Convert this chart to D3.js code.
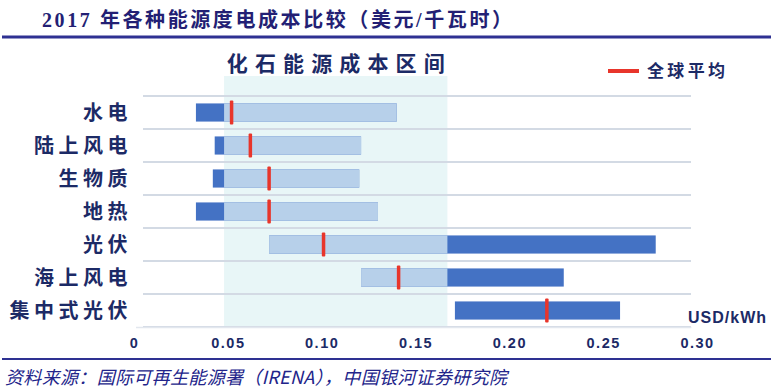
<!DOCTYPE html>
<html lang="zh">
<head>
  <meta charset="UTF-8">
  <title>2017 年各种能源度电成本比较</title>
  <style>
      body { margin: 0; background: #fff; }
      svg { display: block; }
      .cjk { font-family: "Noto Sans CJK SC", "Noto Sans", sans-serif; }
      .grid line { stroke: #d3dae4; stroke-width: 1.2px; shape-rendering: crispEdges; }
      .tick text { font-family: "Liberation Sans", Arial, sans-serif; font-weight: bold; font-size: 14.5px; fill: #1c2a66; letter-spacing: 1.5px; }
  </style>
</head>
<body>
<div id="chart"></div>
<script src="https://d3js.org/d3.v7.min.js"></script>
<script>
  // values (USD/kWh)
  const categories = ["水电", "陆上风电", "生物质", "地热", "光伏", "海上风电", "集中式光伏"];
  const minCost = [0.033, 0.043, 0.042, 0.033, 0.072, 0.121, 0.171];
  const maxCost = [0.140, 0.121, 0.120, 0.130, 0.278, 0.229, 0.259];
  const avgCost = [0.052, 0.062, 0.072, 0.072, 0.101, 0.141, 0.220];
  const fossilRange = [0.048, 0.167];
  const xTicks = [0, 0.05, 0.10, 0.15, 0.20, 0.25, 0.30];

  const W = 777, H = 391;
  const navy = "#1c2a66";

  const svg = d3.select("#chart").append("svg")
    .attr("width", W)
    .attr("height", H);

  const x = d3.scaleLinear()
    .domain([0, 0.30])
    .range([134, 697]);

  const y = d3.scaleBand()
    .domain(categories)
    .range([96, 327])
    .paddingInner(0.45)
    .paddingOuter(0.225);

  // title + rule
  svg.append("text")
    .attr("x", 42)
    .attr("y", 27)
    .attr("textLength", 470)
    .attr("lengthAdjust", "spacing")
    .style("font-family", "'Liberation Serif', 'Noto Sans CJK SC', serif")
    .style("font-weight", "bold")
    .style("font-size", "20px")
    .style("fill", "#231f74")
    .text("2017 年各种能源度电成本比较（美元/千瓦时）");

  svg.append("line")
    .attr("x1", 2).attr("x2", 771)
    .attr("y1", 37).attr("y2", 37)
    .attr("stroke", "#2e3192")
    .attr("stroke-width", 3);

  // fossil fuel cost band
  svg.append("rect")
    .attr("x", x(fossilRange[0]))
    .attr("width", x(fossilRange[1]) - x(fossilRange[0]))
    .attr("y", y.range()[0] - 20)
    .attr("height", y.range()[1] - y.range()[0] + 20)
    .attr("fill", "#e8f6f7");

  svg.append("text")
    .attr("class", "cjk")
    .attr("x", (x(fossilRange[0]) + x(fossilRange[1])) / 2)
    .attr("y", 71)
    .attr("text-anchor", "middle")
    .attr("textLength", 218)
    .attr("lengthAdjust", "spacing")
    .style("font-size", "21px")
    .style("font-weight", "bold")
    .style("fill", navy)
    .text("化石能源成本区间");

  // row gridlines
  const rowLines = categories.map(c => y(c) - y.step() * y.paddingInner() / 2);
  rowLines.push(y.range()[1]);
  svg.append("g")
    .attr("class", "grid")
    .selectAll("line")
    .data(rowLines)
    .join("line")
    .attr("x1", 143)
    .attr("x2", x(0.297))
    .attr("y1", d => Math.round(d))
    .attr("y2", d => Math.round(d));

  // full cost range (dark) then the part that overlaps fossil range (light)
  const rows = categories.map((c, i) => ({c, lo: minCost[i], hi: maxCost[i], avg: avgCost[i]}));

  svg.append("g")
    .selectAll("rect")
    .data(rows)
    .join("rect")
    .attr("x", d => x(d.lo))
    .attr("width", d => x(d.hi) - x(d.lo))
    .attr("y", d => y(d.c))
    .attr("height", y.bandwidth())
    .attr("fill", "#4472c4");

  const overlap = rows
    .map(d => ({c: d.c, lo: Math.max(d.lo, fossilRange[0]), hi: Math.min(d.hi, fossilRange[1])}))
    .filter(d => d.hi > d.lo);

  svg.append("g")
    .selectAll("rect")
    .data(overlap)
    .join("rect")
    .attr("x", d => x(d.lo))
    .attr("width", d => x(d.hi) - x(d.lo))
    .attr("y", d => y(d.c))
    .attr("height", y.bandwidth())
    .attr("fill", "#b7d0ea");

  // global average markers
  svg.append("g")
    .selectAll("rect")
    .data(rows)
    .join("rect")
    .attr("x", d => x(d.avg) - 1.75)
    .attr("width", 3.5)
    .attr("y", d => y(d.c) - 3)
    .attr("height", y.bandwidth() + 6)
    .attr("rx", 1)
    .attr("fill", "#e8352b");

  // category labels
  svg.append("g")
    .selectAll("text")
    .data(categories)
    .join("text")
    .attr("class", "cjk")
    .attr("x", 132)
    .attr("y", d => y(d) + y.bandwidth() / 2)
    .attr("dy", "0.36em")
    .attr("text-anchor", "end")
    .style("font-size", "20px")
    .style("font-weight", "bold")
    .style("letter-spacing", "4.5px")
    .style("fill", navy)
    .text(d => d);

  // x axis
  const xAxis = svg.append("g")
    .attr("transform", `translate(0,${y.range()[1]})`)
    .call(d3.axisBottom(x)
      .tickValues(xTicks)
      .tickSize(0)
      .tickPadding(11)
      .tickFormat(d => d === 0 ? "0" : d3.format(".2f")(d)));
  xAxis.select(".domain")
    .attr("stroke", "#e2e7ee")
    .attr("stroke-width", 1.5)
    .attr("d", `M136,0.5H${x(0.297)}`);

  svg.append("text")
    .attr("x", 767)
    .attr("y", 323)
    .attr("text-anchor", "end")
    .style("font-family", "'Liberation Sans', Arial, sans-serif")
    .style("font-weight", "bold")
    .style("font-size", "16px")
    .style("letter-spacing", "1px")
    .style("fill", navy)
    .text("USD/kWh");

  // legend
  svg.append("line")
    .attr("x1", 608).attr("x2", 639)
    .attr("y1", 71).attr("y2", 71)
    .attr("stroke", "#e8352b")
    .attr("stroke-width", 4);

  svg.append("text")
    .attr("class", "cjk")
    .attr("x", 647)
    .attr("y", 71)
    .attr("dy", "0.36em")
    .attr("textLength", 78)
    .attr("lengthAdjust", "spacing")
    .style("font-size", "17px")
    .style("font-weight", "bold")
    .style("fill", navy)
    .text("全球平均");

  // source footer
  svg.append("line")
    .attr("x1", 2).attr("x2", 771)
    .attr("y1", 359).attr("y2", 359)
    .attr("stroke", "#2e3192")
    .attr("stroke-width", 2);

  svg.append("text")
    .attr("x", 5)
    .attr("y", 384)
    .attr("textLength", 502)
    .attr("lengthAdjust", "spacing")
    .style("font-family", "'Noto Sans CJK SC', sans-serif")
    .style("font-style", "italic")
    .style("font-size", "18px")
    .style("fill", "#22248a")
    .text("资料来源：国际可再生能源署（IRENA），中国银河证券研究院");
</script>
</body>
</html>
